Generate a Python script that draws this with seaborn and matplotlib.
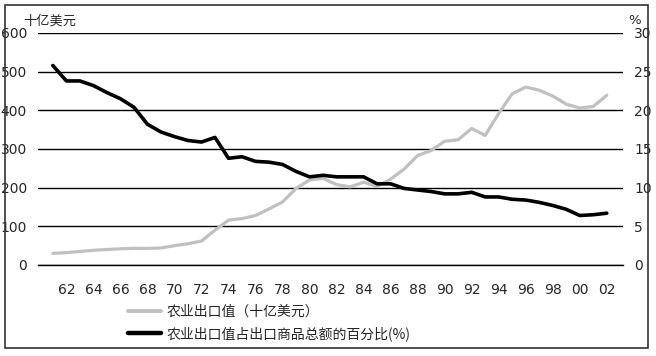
import seaborn as sns
import matplotlib.pyplot as plt
import matplotlib.patches as mpatches
from matplotlib.lines import Line2D
from matplotlib.ticker import MultipleLocator
import pandas as pd

years = list(range(1961, 2003))
export_value = [30, 32, 35, 38, 40, 42, 43, 43, 44, 50, 55, 62, 90, 116, 120, 128,
                145, 163, 198, 220, 224, 208, 202, 214, 203, 222, 248, 283, 296, 320,
                324, 353, 335, 392, 443, 460, 452, 437, 416, 406, 410, 439]
export_share = [25.8, 23.8, 23.8, 23.2, 22.3, 21.5, 20.4, 18.2, 17.2, 16.6, 16.1, 15.9,
                16.5, 13.8, 14.0, 13.4, 13.3, 13.0, 12.1, 11.4, 11.6, 11.4, 11.4, 11.4,
                10.5, 10.5, 9.9, 9.7, 9.5, 9.2, 9.2, 9.4, 8.8, 8.8, 8.5, 8.4, 8.1, 7.7,
                7.2, 6.4, 6.5, 6.7]
label_value = '农业出口值（十亿美元）'
label_share = '农业出口值占出口商品总额的百分比(%)'

df = pd.DataFrame({'year': years, 'value': export_value, 'share': export_share})

sns.set_style('white')
plt.rcParams['font.family'] = ['Noto Sans CJK SC', 'DejaVu Sans']

fig = plt.figure(figsize=(6.56, 3.56), dpi=100)
ax = fig.add_axes([38 / 656, 1 - 265 / 356, 585 / 656, 232 / 356])
ax2 = ax.twinx()

gray = '#c0c0c0'
sns.lineplot(data=df, x='year', y='value', ax=ax, color=gray, lw=2.3)
sns.lineplot(data=df, x='year', y='share', ax=ax2, color='black', lw=2.6)

ax.set_xlim(1959.9, 2003.2)
ax.set_ylim(0, 600)
ax2.set_ylim(0, 30)
ax.set_yticks(range(0, 601, 100))
ax2.set_yticks(range(0, 31, 5))
ax.grid(axis='y', color='black', lw=1)
ax.set_axisbelow(True)

even = list(range(1962, 2003, 2))
ax.set_xticks(even)
ax.set_xticklabels([f'{y % 100:02d}' for y in even])
ax.xaxis.set_minor_locator(MultipleLocator(1))
ax.tick_params(axis='x', which='both', direction='in', length=5, width=1,
               color='black', pad=13, labelsize=10)
ax.tick_params(axis='y', length=0, pad=8, labelsize=10)
ax2.tick_params(axis='y', length=0, pad=8, labelsize=10)
for lab in ax.get_xticklabels() + ax.get_yticklabels() + ax2.get_yticklabels():
    lab.set_family('DejaVu Sans')

for s in ['left', 'right', 'top']:
    ax.spines[s].set_visible(False)
    ax2.spines[s].set_visible(False)
ax2.spines['bottom'].set_visible(False)
ax.spines['bottom'].set_color('black')
ax.spines['bottom'].set_linewidth(1)
ax.set_xlabel('')
ax.set_ylabel('')
ax2.set_ylabel('')

fig.text(23 / 656, 1 - 21 / 356, '十亿美元', fontsize=9.5, va='center', ha='left')
fig.text(628 / 656, 1 - 20 / 356, '%', fontsize=9.5, va='center', ha='left',
         family='DejaVu Sans')

handles = [Line2D([], [], color=gray, lw=2.8), Line2D([], [], color='black', lw=3.2)]
fig.legend(handles, [label_value, label_share], loc='upper left',
           bbox_to_anchor=(128 / 656, 1 - 305 / 356), frameon=False, fontsize=10,
           handlelength=2.4, handletextpad=0.35, labelspacing=0.5,
           borderpad=0, borderaxespad=0)

fig.patches.append(mpatches.Rectangle((5 / 656, 1 - 348 / 356), 643 / 656, 343 / 356,
                                      transform=fig.transFigure, fill=False,
                                      edgecolor='#333333', lw=1.2))

fig.savefig('out.png', dpi=100)
